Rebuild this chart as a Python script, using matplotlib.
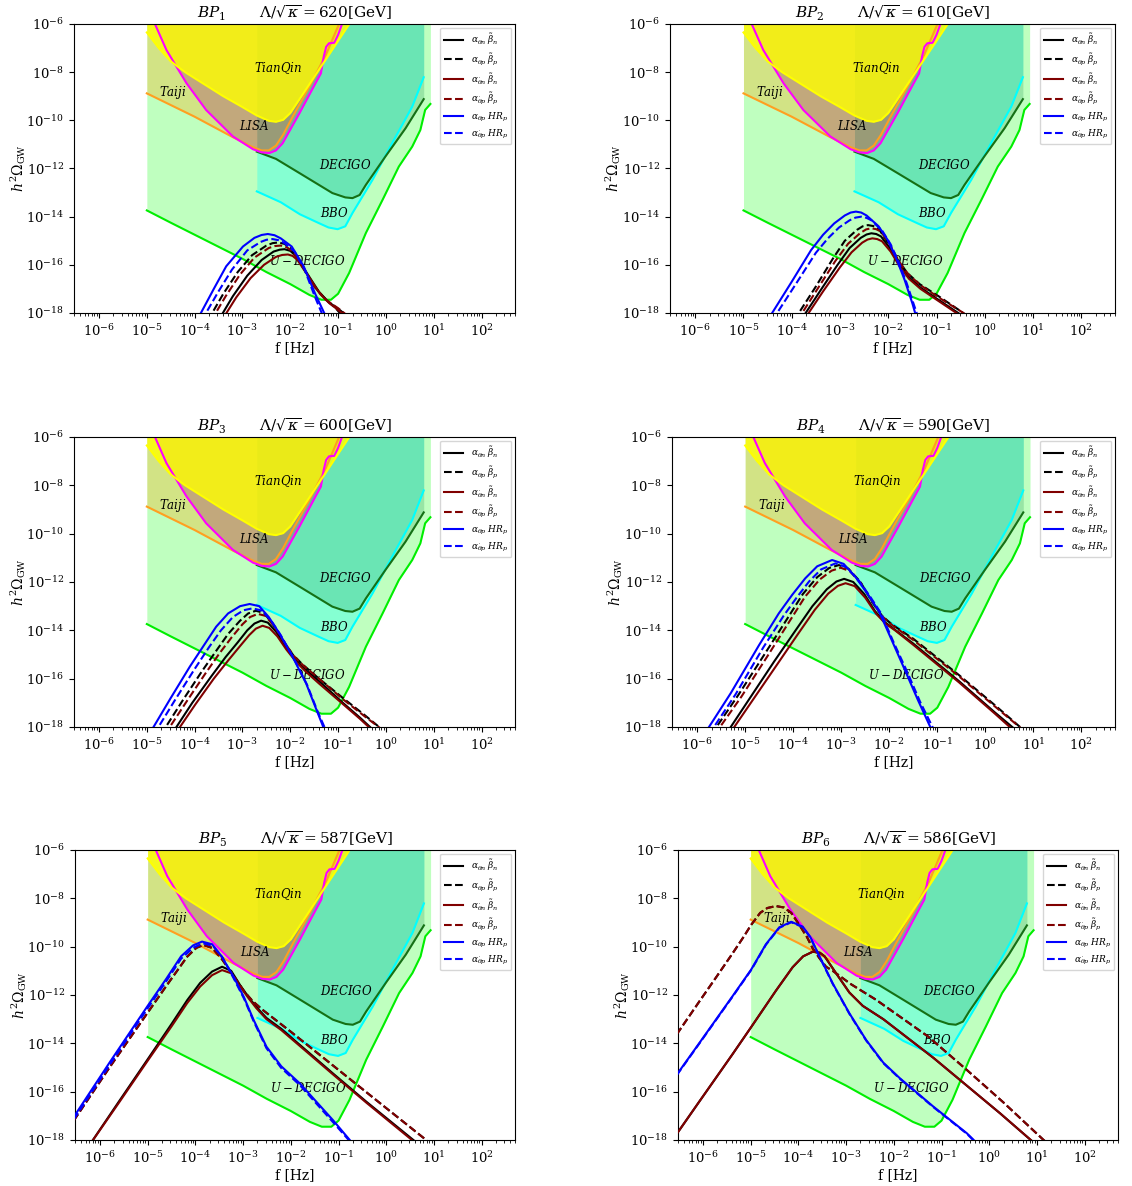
import numpy as np
import matplotlib
matplotlib.use('Agg')
import matplotlib.pyplot as plt
from matplotlib.ticker import LogLocator, NullLocator, FixedLocator

plt.rcParams['font.family'] = ['DejaVu Serif']
plt.rcParams['mathtext.fontset'] = 'dejavuserif'

# ---------------- detector sensitivity curves: (log10 f, log10 h^2 Omega) ----------------
tianqin_curve = [(-5.0, -6.35), (-4.75, -7.0), (-4.5, -7.55), (-4.2, -8.0), (-3.8, -8.5), (-3.4, -9.0),
                 (-3.0, -9.45), (-2.7, -9.8), (-2.45, -10.02), (-2.3, -10.06), (-2.15, -9.98), (-2.0, -9.7),
                 (-1.8, -9.1), (-1.5, -8.2), (-1.2, -7.3), (-0.9, -6.4), (-0.7, -5.8)]
taiji_curve = [(-5.0, -8.88), (-4.0, -9.85), (-3.2, -10.7), (-2.8, -11.1), (-2.6, -11.25), (-2.45, -11.25),
               (-2.3, -11.05), (-2.15, -10.6), (-1.95, -9.85), (-1.6, -8.6), (-1.26, -7.3), (-0.98, -6.0),
               (-0.9, -5.7)]
lisa_curve = [(-4.9, -5.7), (-4.83, -6.0), (-4.59, -7.08), (-4.17, -8.46), (-3.76, -9.57), (-3.2, -10.67),
              (-2.78, -11.2), (-2.6, -11.33), (-2.44, -11.36), (-2.3, -11.25), (-2.16, -10.95), (-1.81, -9.71),
              (-1.47, -8.45), (-1.36, -8.05), (-1.3, -7.35), (-1.25, -6.95), (-1.19, -6.8), (-1.08, -6.78),
              (-1.0, -6.45), (-0.9, -5.9)]
decigo_curve = [(-2.70, -11.30), (-2.3, -11.6), (-1.8, -12.2), (-1.12, -13.02), (-0.85, -13.2), (-0.70, -13.23),
                (-0.55, -13.1), (-0.42, -12.68), (-0.01, -11.5), (0.41, -10.33), (0.79, -9.12)]
bbo_curve = [(-2.70, -12.95), (-2.2, -13.4), (-1.8, -13.9), (-1.40, -14.27), (-1.2, -14.45), (-1.01, -14.52),
             (-0.85, -14.4), (-0.70, -13.85), (-0.28, -12.47), (0.13, -10.95), (0.55, -9.43), (0.79, -8.21)]
udecigo_curve = [(-5.0, -13.74), (-4.5, -14.25), (-4.0, -14.75), (-3.5, -15.25), (-3.0, -15.75), (-2.5, -16.3),
                 (-2.0, -16.8), (-1.6, -17.25), (-1.35, -17.45), (-1.15, -17.45), (-1.0, -17.2), (-0.77, -16.34),
                 (-0.42, -14.68), (-0.07, -13.3), (0.27, -11.92), (0.55, -11.09), (0.72, -10.4), (0.82, -9.57),
                 (0.93, -9.32)]

# ---------------- GW spectra: (log10 f, log10 h^2 Omega) ----------------
# order: theta_n beta_n (black solid), theta_p beta_p (black dashed), thetadot_n beta_n (maroon solid),
#        thetadot_p beta_p (maroon dashed), theta_p HR_p (blue solid), thetadot_p HR_p (blue dashed)
bp1_tn = [(-3.5, -18.3), (-3.2, -17.3), (-2.9, -16.45), (-2.6, -15.8), (-2.35, -15.45), (-2.22, -15.37),
          (-2.12, -15.35), (-2.0, -15.42), (-1.9, -15.6), (-1.67, -16.29), (-1.4, -17.12), (-1.2, -17.55),
          (-0.95, -17.9), (-0.8, -18.15)]
bp1_tp = [(-3.72, -18.3), (-3.4, -17.2), (-3.1, -16.3), (-2.8, -15.6), (-2.5, -15.2), (-2.37, -15.1),
          (-2.25, -15.07), (-2.12, -15.13), (-2.0, -15.3), (-1.78, -15.95), (-1.52, -16.85), (-1.3, -17.35),
          (-1.05, -17.8), (-0.9, -18.15)]
bp1_dn = [(-3.43, -18.3), (-3.13, -17.35), (-2.83, -16.55), (-2.55, -16.0), (-2.3, -15.67), (-2.17, -15.59),
          (-2.05, -15.57), (-1.95, -15.63), (-1.85, -15.8), (-1.63, -16.45), (-1.38, -17.2), (-1.18, -17.6),
          (-0.95, -17.95), (-0.8, -18.2)]
bp1_dp = [(-3.65, -18.3), (-3.35, -17.3), (-3.05, -16.4), (-2.75, -15.7), (-2.45, -15.3), (-2.32, -15.22),
          (-2.2, -15.2), (-2.07, -15.27), (-1.95, -15.45), (-1.73, -16.1), (-1.5, -16.9), (-1.26, -17.45),
          (-1.0, -17.8), (-0.78, -18.15)]
bp1_hp = [(-3.95, -18.3), (-3.6, -17.0), (-3.34, -16.06), (-2.99, -15.24), (-2.75, -14.88), (-2.6, -14.76),
          (-2.47, -14.72), (-2.33, -14.77), (-2.2, -14.9), (-1.97, -15.24), (-1.72, -16.06), (-1.48, -17.2),
          (-1.22, -18.3)]
bp1_hd = [(-3.85, -18.3), (-3.5, -17.1), (-3.22, -16.2), (-2.9, -15.4), (-2.62, -15.05), (-2.5, -14.96),
          (-2.37, -14.93), (-2.24, -14.98), (-2.12, -15.1), (-1.91, -15.45), (-1.7, -16.2), (-1.49, -17.3),
          (-1.28, -18.3)]

bp2_tn = [(-3.81, -18.3), (-3.4, -17.05), (-3.05, -16.0), (-2.8, -15.3), (-2.57, -14.88), (-2.45, -14.74),
          (-2.35, -14.69), (-2.25, -14.72), (-2.15, -14.82), (-1.97, -15.3), (-1.78, -15.95), (-1.58, -16.5),
          (-1.33, -16.95), (-0.96, -17.45), (-0.55, -18.0), (-0.4, -18.2)]
bp2_tp = [(-3.95, -18.3), (-3.5, -16.9), (-3.15, -15.75), (-2.9, -15.0), (-2.65, -14.55), (-2.53, -14.4),
          (-2.42, -14.35), (-2.31, -14.39), (-2.2, -14.5), (-2.0, -15.1), (-1.8, -15.8), (-1.6, -16.35),
          (-1.35, -16.8), (-0.96, -17.3), (-0.48, -17.95), (-0.35, -18.15)]
bp2_dn = [(-3.75, -18.3), (-3.35, -17.1), (-3.0, -16.1), (-2.76, -15.48), (-2.54, -15.08), (-2.43, -14.95),
          (-2.33, -14.9), (-2.23, -14.93), (-2.13, -15.02), (-1.95, -15.45), (-1.77, -16.05), (-1.57, -16.58),
          (-1.33, -17.0), (-0.96, -17.5), (-0.55, -18.05), (-0.4, -18.25)]
bp2_dp = [(-3.88, -18.3), (-3.45, -16.95), (-3.1, -15.85), (-2.83, -15.12), (-2.58, -14.68), (-2.46, -14.53),
          (-2.35, -14.48), (-2.25, -14.52), (-2.15, -14.62), (-1.97, -15.15), (-1.78, -15.85), (-1.58, -16.4),
          (-1.33, -16.85), (-0.96, -17.35), (-0.48, -17.95), (-0.3, -18.2)]
bp2_hp = [(-4.5, -18.3), (-4.0, -16.7), (-3.6, -15.39), (-3.35, -14.75), (-3.12, -14.28), (-2.9, -13.95),
          (-2.78, -13.83), (-2.67, -13.79), (-2.56, -13.83), (-2.45, -13.95), (-2.2, -14.4), (-2.01, -14.97),
          (-1.83, -15.75), (-1.66, -16.63), (-1.5, -17.6), (-1.4, -18.3)]
bp2_hd = [(-4.4, -18.3), (-3.9, -16.75), (-3.5, -15.5), (-3.25, -14.9), (-3.02, -14.45), (-2.8, -14.15),
          (-2.68, -14.04), (-2.56, -14.0), (-2.45, -14.05), (-2.35, -14.15), (-2.12, -14.6), (-1.95, -15.15),
          (-1.78, -15.9), (-1.62, -16.75), (-1.47, -17.65), (-1.36, -18.3)]

bp3_tn = [(-4.48, -18.3), (-4.05, -17.0), (-3.65, -15.9), (-3.35, -15.1), (-3.1, -14.5), (-2.9, -14.0),
          (-2.75, -13.72), (-2.61, -13.6), (-2.47, -13.68), (-2.3, -14.05), (-2.1, -14.65), (-1.9, -15.2),
          (-1.7, -15.6), (-1.4, -16.1), (-0.9, -17.0), (-0.55, -17.6), (-0.25, -18.15)]
bp3_tp = [(-4.7, -18.3), (-4.25, -16.9), (-3.85, -15.7), (-3.55, -14.85), (-3.3, -14.15), (-3.05, -13.6),
          (-2.88, -13.3), (-2.72, -13.19), (-2.55, -13.28), (-2.38, -13.7), (-2.16, -14.4), (-1.95, -15.0),
          (-1.75, -15.4), (-1.4, -16.0), (-0.9, -16.8), (-0.45, -17.5), (-0.05, -18.15)]
bp3_dn = [(-4.41, -18.3), (-3.98, -17.05), (-3.6, -16.0), (-3.3, -15.25), (-3.05, -14.65), (-2.86, -14.2),
          (-2.72, -13.93), (-2.58, -13.81), (-2.44, -13.9), (-2.27, -14.25), (-2.08, -14.8), (-1.88, -15.3),
          (-1.68, -15.7), (-1.4, -16.2), (-0.9, -17.05), (-0.55, -17.65), (-0.25, -18.2)]
bp3_dp = [(-4.62, -18.3), (-4.17, -16.95), (-3.78, -15.8), (-3.48, -14.95), (-3.23, -14.3), (-3.0, -13.75),
          (-2.84, -13.45), (-2.68, -13.32), (-2.52, -13.4), (-2.35, -13.8), (-2.14, -14.45), (-1.93, -15.05),
          (-1.73, -15.45), (-1.4, -16.0), (-0.9, -16.85), (-0.45, -17.55), (-0.02, -18.2)]
bp3_hp = [(-4.95, -18.3), (-4.5, -16.8), (-4.1, -15.5), (-3.8, -14.6), (-3.55, -13.85), (-3.3, -13.3),
          (-3.05, -13.0), (-2.85, -12.91), (-2.65, -13.0), (-2.45, -13.45), (-2.23, -14.12), (-1.95, -15.1),
          (-1.67, -16.19), (-1.45, -17.3), (-1.25, -18.3)]
bp3_hd = [(-4.85, -18.3), (-4.4, -16.85), (-4.0, -15.6), (-3.7, -14.7), (-3.45, -14.0), (-3.2, -13.45),
          (-2.98, -13.17), (-2.79, -13.09), (-2.6, -13.18), (-2.4, -13.6), (-2.2, -14.2), (-1.93, -15.15),
          (-1.65, -16.25), (-1.43, -17.35), (-1.22, -18.3)]

bp4_tn = [(-5.4, -18.3), (-4.9, -16.8), (-4.4, -15.3), (-3.95, -14.0), (-3.6, -13.0), (-3.3, -12.3),
          (-3.1, -11.98), (-2.94, -11.87), (-2.75, -12.0), (-2.52, -12.5), (-2.3, -13.2), (-2.1, -13.65),
          (-1.9, -13.95), (-1.5, -14.55), (-0.55, -16.1), (0.2, -17.4), (0.65, -18.15)]
bp4_tp = [(-5.7, -18.3), (-5.15, -16.7), (-4.6, -15.0), (-4.15, -13.6), (-3.8, -12.5), (-3.5, -11.8),
          (-3.25, -11.42), (-3.05, -11.3), (-2.85, -11.45), (-2.6, -12.0), (-2.35, -12.85), (-2.15, -13.4),
          (-1.95, -13.75), (-1.5, -14.35), (-0.55, -15.85), (0.2, -17.1), (0.78, -18.1)]
bp4_dn = [(-5.33, -18.3), (-4.83, -16.85), (-4.33, -15.4), (-3.9, -14.15), (-3.55, -13.15), (-3.27, -12.48),
          (-3.07, -12.16), (-2.91, -12.05), (-2.72, -12.17), (-2.5, -12.65), (-2.28, -13.3), (-2.08, -13.72),
          (-1.88, -14.0), (-1.5, -14.6), (-0.55, -16.15), (0.2, -17.45), (0.62, -18.2)]
bp4_dp = [(-5.63, -18.3), (-5.08, -16.75), (-4.53, -15.05), (-4.1, -13.7), (-3.75, -12.6), (-3.45, -11.9),
          (-3.2, -11.53), (-3.01, -11.41), (-2.82, -11.55), (-2.57, -12.1), (-2.33, -12.9), (-2.13, -13.45),
          (-1.93, -13.8), (-1.5, -14.4), (-0.55, -15.9), (0.2, -17.15), (0.8, -18.15)]
bp4_hp = [(-5.85, -18.3), (-5.3, -16.6), (-4.71, -14.61), (-4.3, -13.3), (-4.02, -12.53), (-3.75, -11.85),
          (-3.5, -11.35), (-3.19, -11.09), (-2.95, -11.25), (-2.7, -11.8), (-2.45, -12.5), (-2.21, -13.23),
          (-1.95, -14.4), (-1.66, -15.71), (-1.4, -16.9), (-1.1, -18.2)]
bp4_hd = [(-5.75, -18.3), (-5.2, -16.65), (-4.62, -14.7), (-4.2, -13.4), (-3.93, -12.65), (-3.67, -11.98),
          (-3.42, -11.48), (-3.12, -11.23), (-2.9, -11.38), (-2.65, -11.9), (-2.4, -12.6), (-2.17, -13.3),
          (-1.92, -14.45), (-1.62, -15.75), (-1.36, -16.95), (-1.05, -18.2)]

bp5_tn = [(-6.25, -18.3), (-5.6, -16.4), (-5.01, -14.69), (-4.5, -13.2), (-4.17, -12.21), (-3.9, -11.5),
          (-3.65, -11.03), (-3.44, -10.83), (-3.25, -11.0), (-3.06, -11.6), (-2.88, -12.1), (-2.72, -12.5),
          (-2.51, -12.95), (-2.2, -13.4), (-1.12, -15.24), (-0.42, -16.41), (0.6, -18.05)]
bp5_tp = [(-6.55, -17.2), (-5.8, -15.0), (-5.01, -12.76), (-4.6, -11.6), (-4.17, -10.41), (-3.98, -10.05),
          (-3.83, -9.93), (-3.65, -10.05), (-3.45, -10.5), (-3.2, -11.2), (-2.98, -11.85), (-2.8, -12.25),
          (-2.6, -12.6), (-2.0, -13.52), (-1.0, -15.1), (0.0, -16.68), (0.85, -18.02)]
bp5_dn = [(-6.25, -18.3), (-5.6, -16.45), (-5.01, -14.75), (-4.5, -13.3), (-4.17, -12.33), (-3.9, -11.65),
          (-3.65, -11.18), (-3.44, -10.97), (-3.25, -11.1), (-3.06, -11.65), (-2.88, -12.15), (-2.72, -12.55),
          (-2.51, -13.0), (-2.2, -13.45), (-1.12, -15.28), (-0.42, -16.45), (0.6, -18.1)]
bp5_dp = [(-6.55, -17.2), (-5.8, -15.0), (-5.01, -12.76), (-4.6, -11.6), (-4.17, -10.41), (-3.98, -10.05),
          (-3.83, -9.93), (-3.65, -10.05), (-3.45, -10.5), (-3.2, -11.2), (-2.98, -11.85), (-2.8, -12.25),
          (-2.6, -12.6), (-2.0, -13.52), (-1.0, -15.1), (0.0, -16.68), (0.85, -18.02)]
bp5_hp = [(-6.55, -17.05), (-5.8, -14.8), (-5.01, -12.48), (-4.6, -11.3), (-4.3, -10.4), (-4.05, -9.95),
          (-3.86, -9.79), (-3.65, -9.9), (-3.45, -10.4), (-3.2, -11.24), (-2.98, -12.1), (-2.78, -13.03),
          (-2.51, -14.14), (-2.2, -14.95), (-1.81, -15.66), (-1.12, -17.17), (-0.7, -18.15)]
bp5_hd = [(-6.55, -17.15), (-5.8, -14.9), (-5.01, -12.58), (-4.6, -11.4), (-4.3, -10.5), (-4.05, -10.05),
          (-3.84, -9.86), (-3.63, -9.97), (-3.43, -10.45), (-3.2, -11.3), (-2.98, -12.15), (-2.78, -13.08),
          (-2.51, -14.2), (-2.2, -15.02), (-1.81, -15.73), (-1.12, -17.25), (-0.72, -18.15)]

bp6_tn = [(-6.55, -17.75), (-6.08, -16.42), (-5.38, -14.45), (-4.99, -13.33), (-4.47, -11.82), (-4.12, -10.85),
          (-3.9, -10.4), (-3.7, -10.21), (-3.55, -10.25), (-3.45, -10.4), (-3.21, -11.1), (-2.93, -11.9),
          (-2.65, -12.45), (-2.22, -13.0), (-1.17, -14.6), (-0.47, -15.75), (0.23, -16.9), (0.9, -18.05)]
bp6_tp = [(-6.55, -13.63), (-6.08, -12.28), (-5.7, -11.2), (-5.38, -10.28), (-5.15, -9.6), (-4.99, -9.1),
          (-4.8, -8.6), (-4.65, -8.4), (-4.47, -8.32), (-4.3, -8.38), (-4.15, -8.6), (-3.98, -9.1),
          (-3.82, -9.6), (-3.7, -10.07), (-3.55, -10.5), (-3.42, -10.83), (-3.28, -11.0), (-2.9, -11.55),
          (-2.37, -12.2), (-1.28, -13.72), (-0.47, -15.1), (0.3, -16.45), (1.14, -18.0), (1.2, -18.1)]
bp6_dn = [(-6.55, -17.75), (-6.08, -16.42), (-5.38, -14.45), (-4.99, -13.33), (-4.47, -11.82), (-4.12, -10.85),
          (-3.9, -10.4), (-3.7, -10.21), (-3.55, -10.25), (-3.45, -10.4), (-3.21, -11.1), (-2.93, -11.9),
          (-2.65, -12.45), (-2.22, -13.0), (-1.17, -14.6), (-0.47, -15.75), (0.23, -16.9), (0.9, -18.05)]
bp6_dp = [(-6.55, -13.63), (-6.08, -12.28), (-5.7, -11.2), (-5.38, -10.28), (-5.15, -9.6), (-4.99, -9.1),
          (-4.8, -8.6), (-4.65, -8.4), (-4.47, -8.32), (-4.3, -8.38), (-4.15, -8.6), (-3.98, -9.1),
          (-3.82, -9.6), (-3.7, -10.07), (-3.55, -10.5), (-3.42, -10.83), (-3.28, -11.0), (-2.9, -11.55),
          (-2.37, -12.2), (-1.28, -13.72), (-0.47, -15.1), (0.3, -16.45), (1.14, -18.0), (1.2, -18.1)]
bp6_hp = [(-6.55, -15.3), (-6.08, -14.0), (-5.38, -12.05), (-4.99, -10.95), (-4.68, -9.9), (-4.4, -9.2),
          (-4.15, -8.97), (-3.91, -9.17), (-3.75, -9.6), (-3.63, -10.1), (-3.28, -11.52), (-2.93, -12.76),
          (-2.58, -13.86), (-2.22, -14.8), (-1.87, -15.45), (-1.17, -16.62), (-0.47, -17.72), (-0.3, -18.05)]
bp6_hd = [(-6.55, -15.32), (-6.08, -14.02), (-5.38, -12.07), (-4.99, -10.97), (-4.68, -9.92), (-4.4, -9.22),
          (-4.15, -8.99), (-3.91, -9.19), (-3.75, -9.62), (-3.63, -10.12), (-3.28, -11.54), (-2.93, -12.78),
          (-2.58, -13.88), (-2.22, -14.82), (-1.87, -15.47), (-1.17, -16.64), (-0.47, -17.74), (-0.3, -18.07)]

bp_names = ['$BP_1$', '$BP_2$', '$BP_3$', '$BP_4$', '$BP_5$', '$BP_6$']
lambda_values = [620, 610, 600, 590, 587, 586]
panel_curves = [
    [bp1_tn, bp1_tp, bp1_dn, bp1_dp, bp1_hp, bp1_hd],
    [bp2_tn, bp2_tp, bp2_dn, bp2_dp, bp2_hp, bp2_hd],
    [bp3_tn, bp3_tp, bp3_dn, bp3_dp, bp3_hp, bp3_hd],
    [bp4_tn, bp4_tp, bp4_dn, bp4_dp, bp4_hp, bp4_hd],
    [bp5_tn, bp5_tp, bp5_dn, bp5_dp, bp5_hp, bp5_hd],
    [bp6_tn, bp6_tp, bp6_dn, bp6_dp, bp6_hp, bp6_hd],
]
legend_labels = [r'$\alpha_{\theta n}\;\tilde{\beta}_n$', r'$\alpha_{\theta p}\;\tilde{\beta}_p$',
                 r'$\alpha_{\dot{\theta} n}\;\tilde{\beta}_n$', r'$\alpha_{\dot{\theta} p}\;\tilde{\beta}_p$',
                 r'$\alpha_{\theta p}\;HR_p$', r'$\alpha_{\dot{\theta} p}\;HR_p$']
line_colors = ['black', 'black', '#800000', '#800000', 'blue', 'blue']
line_styles = ['-', '--', '-', '--', '-', '--']

detector_labels = [('$TianQin$', -2.26, -7.84), ('$Taiji$', -4.45, -8.85), ('$LISA$', -2.75, -10.23),
                   ('$DECIGO$', -0.84, -11.85), ('$BBO$', -1.08, -13.85), ('$U-DECIGO$', -1.64, -15.86)]

x_ticks = [1e-6, 1e-5, 1e-4, 1e-3, 1e-2, 1e-1, 1e0, 1e1, 1e2]
y_ticks = [1e-18, 1e-16, 1e-14, 1e-12, 1e-10, 1e-8, 1e-6]

# panel rectangles in pixels: (left, right, top, bottom)
W, H = 1132, 1186
panel_px = [(74, 515, 24, 313), (670, 1115, 24, 313),
            (74, 515, 437, 727), (672, 1115, 437, 727),
            (75, 515, 850, 1140), (678, 1118, 850, 1140)]


def to_lin(pts):
    a = np.array(pts, dtype=float)
    return 10 ** a[:, 0], 10 ** a[:, 1]


def draw_detectors(ax):
    f, o = to_lin(udecigo_curve)
    ax.fill_between(f, o, 1.0, color='#00ff00', alpha=0.25, lw=0, zorder=1)
    f, o = to_lin(bbo_curve)
    ax.fill_between(f, o, 1.0, color='cyan', alpha=0.3, lw=0, zorder=1)
    f, o = to_lin(decigo_curve)
    ax.fill_between(f, o, 1.0, color='#008040', alpha=0.2, lw=0, zorder=1)
    f, o = to_lin(taiji_curve)
    ax.fill_between(f, o, 1.0, color='orange', alpha=0.3, lw=0, zorder=1)
    f, o = to_lin(lisa_curve)
    ax.fill_between(f, o, 1.0, color='#a0206a', alpha=0.3, lw=0, zorder=1)
    f, o = to_lin(tianqin_curve)
    ax.fill_between(f, o, 1.0, color='yellow', alpha=0.8, lw=0, zorder=1)
    for curve, col in [(udecigo_curve, '#00ee00'), (bbo_curve, 'cyan'), (decigo_curve, '#157015'),
                       (taiji_curve, '#ff9f20'), (lisa_curve, 'magenta'), (tianqin_curve, '#ffff00')]:
        f, o = to_lin(curve)
        ax.plot(f, o, color=col, lw=1.5, zorder=2)
    for txt, lx, ly in detector_labels:
        ax.text(10 ** lx, 10 ** ly, txt, ha='center', va='center', fontsize=8.5, zorder=3)


fig = plt.figure(figsize=(W / 100, H / 100), dpi=100)
for i in range(6):
    l, r, t, b = panel_px[i]
    ax = fig.add_axes([l / W, 1 - b / H, (r - l) / W, (b - t) / H])
    ax.set_xscale('log')
    ax.set_yscale('log')
    draw_detectors(ax)
    for curve, col, ls, lab in zip(panel_curves[i], line_colors, line_styles, legend_labels):
        f, o = to_lin(curve)
        ax.plot(f, o, color=col, ls=ls, lw=1.5, label=lab, zorder=4)
    ax.set_xlim(3e-7, 5e2)
    ax.set_ylim(1e-18, 1e-6)
    ax.xaxis.set_major_locator(FixedLocator(x_ticks))
    ax.xaxis.set_minor_locator(LogLocator(base=10, subs=np.arange(2, 10), numticks=20))
    ax.yaxis.set_major_locator(FixedLocator(y_ticks))
    ax.yaxis.set_minor_locator(NullLocator())
    ax.tick_params(labelsize=9.5)
    ax.set_xlabel('f [Hz]', fontsize=10, labelpad=2)
    ax.set_ylabel(r'$h^2\Omega_{\rm GW}$', fontsize=10)
    ax.yaxis.set_label_coords(-0.105, 0.5)
    ax.set_title(bp_names[i] + '       ' + r'$\Lambda/\sqrt{\kappa}=%d$[GeV]' % lambda_values[i],
                 fontsize=11, pad=4)
    ax.legend(loc='upper right', fontsize=6.5, handlelength=2.2, labelspacing=0.45, borderaxespad=0.4)

fig.savefig('out.png', dpi=100)
